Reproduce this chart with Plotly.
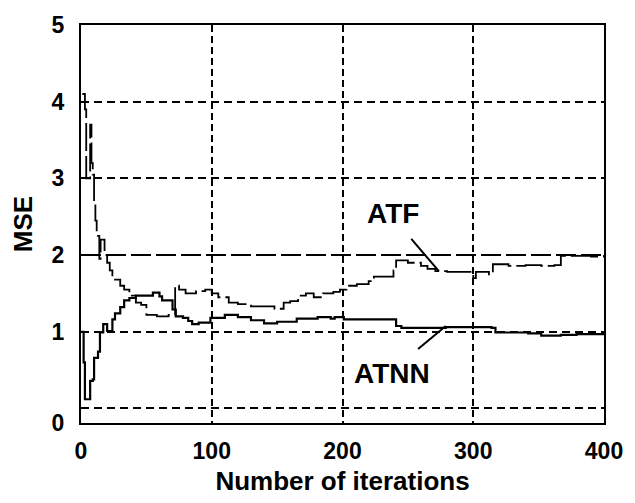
import plotly.graph_objects as go

# ---- data ----
atnn_x = [0, 2, 3, 7, 9, 10, 13, 14.5, 17, 20, 23, 24, 26, 30, 33, 37, 42, 50, 55, 60, 62, 69, 70,
          72.5, 78, 82, 85, 90, 99, 110, 120, 130, 140, 150, 160, 165, 181, 191, 194, 201, 216,
          232, 241, 245, 279, 314, 317, 342, 352, 367, 379, 400]
atnn_y = [1.0, 0.6, 0.12, 0.36, 0.38, 0.66, 0.74, 0.99, 1.1, 1.01, 1.01, 1.16, 1.24, 1.32, 1.41,
          1.44, 1.47, 1.47, 1.51, 1.46, 1.41, 1.41, 1.29, 1.2, 1.18, 1.14, 1.10, 1.12, 1.18, 1.22,
          1.19, 1.15, 1.11, 1.13, 1.13, 1.17, 1.19, 1.17, 1.19, 1.16, 1.16, 1.16, 1.075, 1.05,
          1.06, 1.05, 0.99, 0.98, 0.95, 0.96, 0.97, 0.98]

atf_x = [1, 3, 4, 7, 8, 9, 10, 11, 12, 14, 15, 17, 18, 20, 22, 24, 26, 30, 33, 37, 42, 46, 50,
         58, 67, 72, 75, 80, 88, 95, 100, 105, 113, 120, 130, 140, 148, 155, 160, 166, 172, 178,
         185, 193, 198, 203, 211, 220, 224, 239, 241, 250, 260, 265, 271, 280, 292, 300, 302,
         312, 315, 327, 340, 352, 362, 367, 380, 390, 400]
atf_y = [4.1, 3.9, 3.0, 3.7, 3.2, 3.05, 2.7, 2.45, 2.25, 1.95, 2.2, 2.2, 2.0, 1.9, 1.8, 1.72,
         1.68, 1.6, 1.55, 1.47, 1.38, 1.35, 1.22, 1.2, 1.22, 1.6, 1.55, 1.5, 1.53, 1.55, 1.5,
         1.45, 1.38, 1.36, 1.33, 1.33, 1.3, 1.38, 1.4, 1.47, 1.5, 1.45, 1.5, 1.52, 1.55, 1.6,
         1.62, 1.66, 1.72, 1.8, 1.93, 1.9, 1.86, 1.82, 1.79, 1.78, 1.78, 1.7, 1.78, 1.75, 1.88,
         1.86, 1.87, 1.86, 1.87, 1.99, 1.99, 1.98, 2.0]

x_ticks = [0, 100, 200, 300, 400]
x_tick_text = ["0", "100", "200", "300", "400"]
y_ticks = [-0.19, 1, 2, 3, 4, 5]
y_tick_text = ["0", "1", "2", "3", "4", "5"]
x_grid = [100, 200, 300]
y_grid = [0, 1, 3, 4]

fig = go.Figure()
fig.add_trace(go.Scatter(x=atf_x, y=atf_y, mode="lines", line_shape="hv", name="ATF",
                         line=dict(color="black", width=1.8, dash="28px,5px")))
fig.add_trace(go.Scatter(x=atnn_x, y=atnn_y, mode="lines", line_shape="hv", name="ATNN",
                         line=dict(color="black", width=2.2)))

tickfont = dict(family="Liberation Sans", size=23, color="black", weight="bold")
titlefont = dict(family="Liberation Sans", size=26, color="black", weight="bold")

fig.update_xaxes(range=[0, 400], tickvals=x_ticks, ticktext=x_tick_text, showgrid=False,
                 zeroline=False, showline=True, mirror=True, linecolor="black", linewidth=2,
                 ticks="", ticklabelstandoff=6, tickfont=tickfont,
                 title=dict(text="Number of iterations", font=titlefont, standoff=9),
                 minor=dict(tickmode="array", tickvals=x_grid, showgrid=True, gridcolor="black",
                            gridwidth=2, griddash="7px,4px", ticks=""))
fig.update_yaxes(range=[-0.19, 5], tickvals=y_ticks, ticktext=y_tick_text, showgrid=False,
                 zeroline=False, showline=True, mirror=True, linecolor="black", linewidth=2,
                 ticks="", ticklabelstandoff=10, tickfont=tickfont,
                 title=dict(text="MSE", font=titlefont, standoff=12),
                 minor=dict(tickmode="array", tickvals=y_grid, showgrid=True, gridcolor="black",
                            gridwidth=2, griddash="8px,5px", ticks=""))

# long-dash grid line at MSE = 2
fig.add_shape(type="line", xref="paper", yref="y", x0=0, x1=1, y0=2, y1=2,
              line=dict(color="black", width=2, dash="20px,5px"), layer="below")

annfont = dict(family="Liberation Sans", size=28, color="black", weight="bold")
fig.add_annotation(x=239, y=2.54, text="ATF", showarrow=False, font=annfont)
fig.add_annotation(x=237.5, y=0.45, text="ATNN", showarrow=False, font=annfont)
fig.add_shape(type="line", x0=252.6, y0=2.21, x1=273.7, y1=1.79, line=dict(color="black", width=2))
fig.add_shape(type="line", x0=257.8, y0=0.775, x1=279, y1=1.075, line=dict(color="black", width=2))

fig.update_layout(width=635, height=503, margin=dict(l=81, r=25, t=16, b=72),
                  plot_bgcolor="white", paper_bgcolor="white", showlegend=False)

fig.write_html("out.html")
